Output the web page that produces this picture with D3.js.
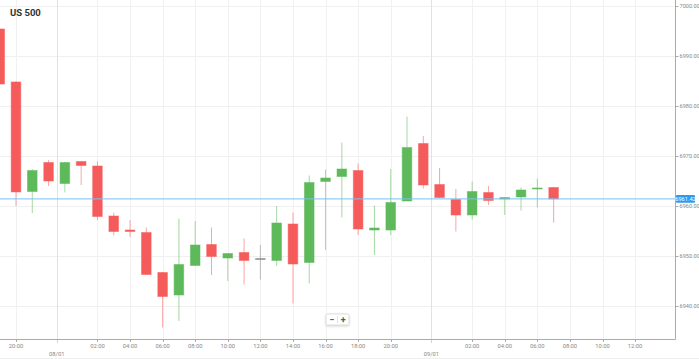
<!DOCTYPE html>
<html><head><meta charset="utf-8">
<script src="https://cdn.jsdelivr.net/npm/d3@7"></script>
<style>
html,body{margin:0;padding:0;background:#fff;}
svg{display:block;font-family:Roboto,"Open Sans",sans-serif;}
</style></head>
<body><svg id="c" width="699" height="359"></svg>
<script>
const title = "US 500";
const openV  = [6995.4,6984.8,6962.9,6968.7,6964.5,6968.9,6968.0,6958.0,6955.2,6954.7,6946.7,6942.2,6948.1,6952.3,6949.6,6950.7,6949.5,6949.1,6956.4,6948.7,6964.9,6965.9,6967.1,6955.2,6955.2,6961.0,6972.5,6964.3,6961.3,6958.2,6962.7,6961.4,6961.8,6963.4,6963.7];
const highV  = [6995.6,6985.0,6967.4,6969.2,6968.8,6969.0,6968.9,6958.7,6957.2,6955.7,6946.8,6957.5,6957.0,6955.7,6950.6,6953.5,6952.2,6960.0,6958.7,6966.1,6967.3,6972.7,6968.5,6960.1,6967.4,6977.9,6974.0,6967.6,6963.4,6964.9,6964.0,6961.7,6963.7,6965.5,6963.8];
const lowV   = [6984.2,6960.0,6958.6,6964.0,6962.7,6964.2,6957.2,6954.1,6953.8,6946.2,6935.7,6937.0,6948.1,6946.2,6945.0,6944.3,6945.3,6948.0,6940.5,6944.5,6951.2,6957.7,6954.2,6950.2,6954.2,6961.0,6963.5,6961.6,6954.9,6957.3,6960.2,6958.2,6959.1,6959.7,6956.7];
const closeV = [6984.4,6962.8,6967.1,6965.0,6968.7,6968.1,6957.9,6954.9,6954.9,6946.3,6941.9,6948.3,6952.2,6949.9,6950.5,6949.1,6949.5,6956.6,6948.4,6964.7,6965.6,6967.4,6955.4,6955.6,6960.7,6971.7,6964.2,6961.7,6958.2,6962.9,6961.1,6961.7,6963.2,6963.6,6961.42];
const lastPrice = 6961.42;
const yTicks = [7000,6990,6980,6970,6960,6950,6940];
const hourTickPos = [1,6,8,10,12,14,16,18,20,22,24,29,31,33,35,37,39];
const hourTickLabels = ["20:00","02:00","04:00","06:00","08:00","10:00","12:00","14:00","16:00","18:00","20:00","02:00","04:00","06:00","08:00","10:00","12:00"];
const dateTickPos = [3.5,26.5];
const dateTickLabels = ["08/01","09/01"];

const svg = d3.select("#c");
const plotR = 675, plotB = 339;
const x = d3.scaleLinear().domain([0,41.45]).range([-0.3,plotR]);
const y = d3.scaleLinear().domain([6933.4,7001.2]).range([plotB,0]);
const bw = 9.6;
const RED="#f65b5b", GREEN="#5db95a", GRAY="#8a8a8a";

const g = svg.append("g");
// grid
g.selectAll(".hg").data(yTicks).join("line")
 .attr("x1",0).attr("x2",plotR).attr("y1",d=>Math.round(y(d))+0.5).attr("y2",d=>Math.round(y(d))+0.5)
 .attr("stroke","#f0f0f0");
g.selectAll(".vg").data(hourTickPos).join("line")
 .attr("y1",0).attr("y2",plotB).attr("x1",d=>Math.round(x(d))+0.5).attr("x2",d=>Math.round(x(d))+0.5)
 .attr("stroke","#f1f1f1");
g.selectAll(".dg").data(dateTickPos).join("line")
 .attr("y1",0).attr("y2",plotB).attr("x1",d=>Math.round(x(d))+0.5).attr("x2",d=>Math.round(x(d))+0.5)
 .attr("stroke","#e2e2e2");

// candles
const data = openV.map((o,i)=>({i,o,h:highV[i],l:lowV[i],c:closeV[i]}));
const col = d=> d.c>d.o?GREEN:(d.c<d.o?RED:GRAY);
const cg = g.append("g");
cg.selectAll(".w").data(data).join("line")
 .attr("x1",d=>x(d.i)).attr("x2",d=>x(d.i))
 .attr("y1",d=>y(d.h)).attr("y2",d=>y(d.l))
 .attr("stroke",col).attr("stroke-opacity",0.55).attr("stroke-width",1);
cg.selectAll(".b").data(data).join("rect")
 .attr("x",d=>x(d.i)-bw/2).attr("width",bw)
 .attr("y",d=>y(Math.max(d.o,d.c)))
 .attr("height",d=>Math.max(1,Math.abs(y(d.o)-y(d.c))))
 .attr("fill",col).attr("stroke",col).attr("stroke-opacity",0.5).attr("stroke-width",1);

// last price line
g.append("line").attr("x1",0).attr("x2",plotR).attr("y1",y(lastPrice)).attr("y2",y(lastPrice))
 .attr("stroke","#78c1f3").attr("stroke-width",1);

// axes frame
g.append("line").attr("x1",plotR+0.5).attr("x2",plotR+0.5).attr("y1",0).attr("y2",plotB+0.5).attr("stroke","#aaa");
g.append("line").attr("x1",0).attr("x2",plotR+0.5).attr("y1",plotB+0.5).attr("y2",plotB+0.5).attr("stroke","#aaa");
g.append("line").attr("x1",0).attr("x2",699).attr("y1",358.5).attr("y2",358.5).attr("stroke","#eee");

// right axis
const ya = g.append("g").attr("transform",`translate(${plotR+0.5},0)`);
ya.selectAll("line").data(yTicks).join("line")
 .attr("x1",0).attr("x2",3).attr("y1",d=>Math.round(y(d))+0.5).attr("y2",d=>Math.round(y(d))+0.5).attr("stroke","#aaa");
ya.selectAll("text").data(yTicks).join("text")
 .attr("x",4).attr("y",d=>y(d)+2).attr("font-size","5.6px").attr("fill","#888")
 .text(d=>d3.format(".2f")(d));
// last price label
ya.append("rect").attr("x",0.5).attr("y",y(lastPrice)-3.8).attr("width",19).attr("height",7.6).attr("rx",1)
 .attr("fill","#2d9bf0");
ya.append("text").attr("x",10).attr("y",y(lastPrice)+2).attr("text-anchor","middle")
 .attr("font-size","5.6px").attr("fill","#fff").text(d3.format(".2f")(lastPrice));

// bottom axis
const xa = g.append("g").attr("transform",`translate(0,${plotB+0.5})`);
xa.selectAll(".t").data(hourTickPos).join("line")
 .attr("x1",d=>Math.round(x(d))+0.5).attr("x2",d=>Math.round(x(d))+0.5).attr("y1",0).attr("y2",2.5).attr("stroke","#aaa");
xa.selectAll(".l").data(hourTickPos).join("text")
 .attr("x",d=>x(d)).attr("y",8).attr("text-anchor","middle").attr("font-size","5.8px").attr("fill","#888")
 .text((d,i)=>hourTickLabels[i]);
xa.selectAll(".dt").data(dateTickPos).join("line")
 .attr("x1",d=>Math.round(x(d))+0.5).attr("x2",d=>Math.round(x(d))+0.5).attr("y1",0).attr("y2",4).attr("stroke","#aaa").attr("stroke-dasharray","1,1");
xa.selectAll(".dl").data(dateTickPos).join("text")
 .attr("x",d=>x(d)).attr("y",16).attr("text-anchor","middle").attr("font-size","5.8px").attr("fill","#888")
 .text((d,i)=>dateTickLabels[i]);

// title
svg.append("text").attr("x",10).attr("y",15.5).attr("font-size","9.5px").attr("font-weight","bold").attr("fill","#333").text(title);

// zoom buttons
const zb = svg.append("g").attr("transform","translate(326,314)");
zb.append("rect").attr("x",0).attr("y",0).attr("width",23).attr("height",11).attr("rx",1.5)
 .attr("fill","#fff").attr("stroke","#ddd").style("filter","drop-shadow(0 1px 1px rgba(0,0,0,0.15))");
zb.append("line").attr("x1",11.5).attr("x2",11.5).attr("y1",2).attr("y2",9).attr("stroke","#e2e2e2");
zb.append("text").attr("x",5.8).attr("y",8.6).attr("text-anchor","middle").attr("font-size","9px").attr("font-weight","bold").attr("fill","#555").text("−");
zb.append("text").attr("x",17.3).attr("y",8.8).attr("text-anchor","middle").attr("font-size","9px").attr("font-weight","bold").attr("fill","#555").text("+");
</script></body></html>
